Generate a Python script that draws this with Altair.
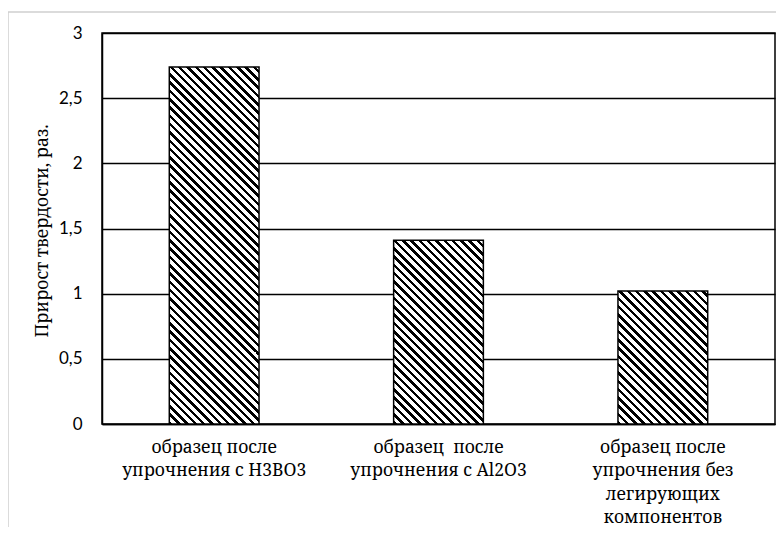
import altair as alt
import pandas as pd

categories = [
    "образец после\nупрочнения с Н3ВО3",
    "образец\u00a0 после\nупрочнения с Al2O3",
    "образец после\nупрочнения без\nлегирующих\nкомпонентов",
]
values = [2.74, 1.41, 1.02]
y_ticks = [0, 0.5, 1, 1.5, 2, 2.5, 3]
y_title = "Прирост твердости, раз."

df = pd.DataFrame({"cat": categories, "val": values})

SERIF = "Noto Serif"

# layout (plot area in px)
W, H = 673, 391
Y_MAX = 3
PAD_INNER, PAD_OUTER = 0.6, 0.3
step = W / (len(categories) - PAD_INNER + 2 * PAD_OUTER)
bar_w = step * (1 - PAD_INNER)


def hatch(value, period=8.3, frac=0.42):
    """Diagonal '\\' hatch as a hard-stop linear gradient (bbox units)."""
    h = max(value / Y_MAX * H, 1)
    w = bar_w
    span = w + h
    a = span / (w * w + h * h)
    stops = []
    n = int(span / period) + 2
    for k in range(n):
        o0 = k * period / span
        if o0 > 1:
            break
        o1 = min((k * period + frac * period) / span, 1)
        o2 = min((k + 1) * period / span, 1)
        stops += [
            {"offset": o0, "color": "#000000"},
            {"offset": o1, "color": "#000000"},
            {"offset": o1, "color": "#ffffff"},
            {"offset": o2, "color": "#ffffff"},
        ]
    return {
        "gradient": "linear",
        "x1": 0, "y1": 1,
        "x2": a * w, "y2": 1 - a * h,
        "stops": stops,
    }


x_enc = alt.X(
    "cat:N",
    sort=categories,
    title=None,
    scale=alt.Scale(paddingInner=PAD_INNER, paddingOuter=PAD_OUTER),
    axis=alt.Axis(
        labelAngle=0,
        labelExpr="split(datum.label, '\\n')",
        labelFont=SERIF,
        labelFontSize=17.5,
        labelLineHeight=23.5,
        labelColor="#000000",
        labelPadding=14,
        ticks=False,
        tickSize=0,
        domainColor="#000000",
        domainWidth=1.5,
        labelLimit=400,
        grid=False,
    ),
)
y_enc = alt.Y(
    "val:Q",
    scale=alt.Scale(domain=[0, Y_MAX], nice=False, zero=True),
    axis=alt.Axis(
        values=y_ticks,
        labelExpr="replace(toString(datum.value), '.', ',')",
        labelFont="Lato",
        labelFontSize=17,
        labelColor="#000000",
        labelPadding=20,
        ticks=False,
        tickSize=0,
        grid=True,
        gridColor="#000000",
        gridWidth=1.3,
        domainColor="#000000",
        domainWidth=1.5,
        title=y_title,
        titleFont=SERIF,
        titleFontSize=17.5,
        titleFontWeight="normal",
        titleColor="#000000",
        titleAngle=270,
        titleX=-60,
        titleY=H / 2 + 2,
        titleAlign="center",
        titleBaseline="middle",
    ),
)

layers = []
for c, v in zip(categories, values):
    layers.append(
        alt.Chart(df)
        .transform_filter(alt.datum.cat == c)
        .mark_bar(fill=hatch(v), stroke="#000000", strokeWidth=1.5)
        .encode(x=x_enc, y=y_enc)
    )

frame_data = alt.Data(values=[{"k": 0}])
frame_top = alt.Chart(frame_data).mark_rule(color="#cfcfcf", strokeWidth=1.5).encode(
    x=alt.value(-94), x2=alt.value(W + 20), y=alt.value(-21)
)
frame_left = alt.Chart(frame_data).mark_rule(color="#cfcfcf", strokeWidth=1.5).encode(
    x=alt.value(-94), y=alt.value(-21), y2=alt.value(H + 200)
)

chart = (
    alt.layer(*layers, frame_top, frame_left)
    .properties(
        width=W,
        height=H,
        autosize=alt.AutoSizeParams(type="none"),
        padding={"left": 94, "top": 25, "right": 1, "bottom": 103},
        background="#ffffff",
    )
    .configure_view(stroke="#000000", strokeWidth=1.5)
)

chart.save("out.html", embed_options={"renderer": "svg", "actions": False})
